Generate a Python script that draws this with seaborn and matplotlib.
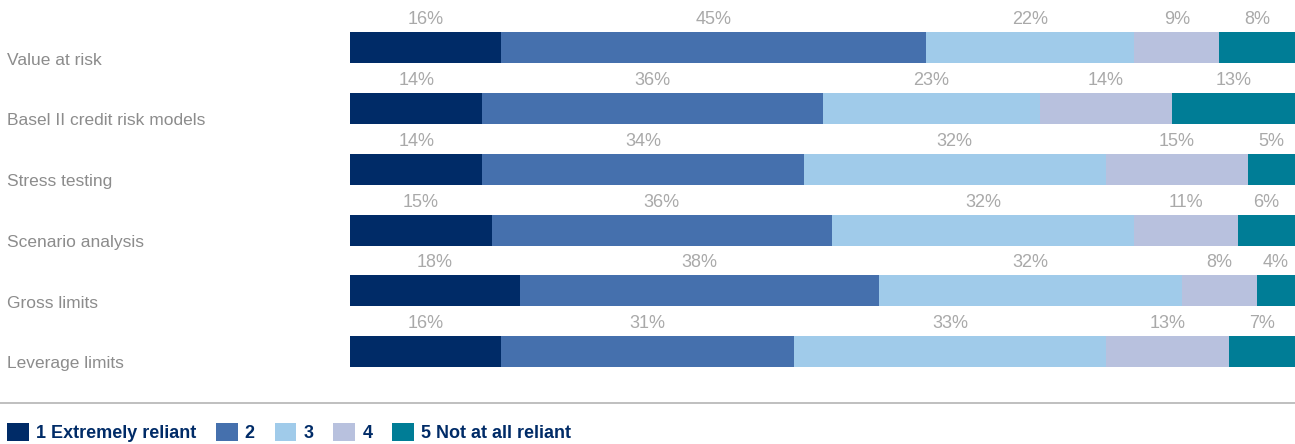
import matplotlib
matplotlib.use("Agg")
import matplotlib.pyplot as plt
from matplotlib.patches import Patch
from matplotlib.lines import Line2D
import seaborn as sns
import numpy as np
import pandas as pd

# data
categories = ["Value at risk", "Basel II credit risk models", "Stress testing",
              "Scenario analysis", "Gross limits", "Leverage limits"]
extremely = [16, 14, 14, 15, 18, 16]
level2 = [45, 36, 34, 36, 38, 31]
level3 = [22, 23, 32, 32, 32, 33]
level4 = [9, 14, 15, 11, 8, 13]
not_at_all = [8, 13, 5, 6, 4, 7]
series_names = ["1 Extremely reliant", "2", "3", "4", "5 Not at all reliant"]
colors = ["#002B67", "#4570AD", "#A0CBEA", "#B8C1DE", "#007D96"]

series = [extremely, level2, level3, level4, not_at_all]
values = np.array(series, dtype=float)
cum = values.cumsum(axis=0)

sns.set_style("white")
plt.rcParams["font.family"] = ["Liberation Sans", "DejaVu Sans"]

fig = plt.figure(figsize=(12.95, 4.44), dpi=100)
ax = fig.add_axes([350 / 1295, 1 - 390 / 444, 1 - 350 / 1295, 390 / 444])

# stacked bars: draw cumulative totals, longest first
for k in range(len(series) - 1, -1, -1):
    df = pd.DataFrame({"cat": categories, "val": cum[k]})
    sns.barplot(data=df, x="val", y="cat", orient="h", color=colors[k],
                width=0.51, saturation=1, ax=ax, linewidth=0)

# percentage labels above each segment + category names on the left
for i in range(len(categories)):
    for k in range(len(series)):
        mid = cum[k, i] - values[k, i] / 2
        ax.text(mid, i - 0.39, f"{int(values[k, i])}%", ha="center", va="baseline",
                fontsize=13, color="#A9A9A9")
    ax.text(-343 / 945, i + 0.2, categories[i], transform=ax.get_yaxis_transform(),
            ha="left", va="center", fontsize=12.5, color="#8C8C8C")

ax.set_xlim(0, 100)
ax.set_ylim(5.63, -0.79)
ax.set_xlabel("")
ax.set_ylabel("")
ax.set_xticks([])
ax.set_yticks([])
for s in ax.spines.values():
    s.set_visible(False)

# separator line above legend
fig.add_artist(Line2D([0, 1], [1 - 403 / 444] * 2, color="#B4B4B4", lw=1.2,
                      transform=fig.transFigure))

handles = [Patch(facecolor=c, edgecolor="none") for c in colors]
leg = fig.legend(handles, series_names, loc="lower left", bbox_to_anchor=(-0.003, -0.02),
                 ncol=5, frameon=False, handlelength=1.2, handleheight=1.2,
                 handletextpad=0.4, columnspacing=1.1, borderaxespad=0.2,
                 prop={"family": ["Liberation Sans Narrow", "Liberation Sans", "DejaVu Sans"],
                       "weight": "bold", "size": 13})
for t in leg.get_texts():
    t.set_color("#002B67")

fig.savefig("out.png", dpi=100)
